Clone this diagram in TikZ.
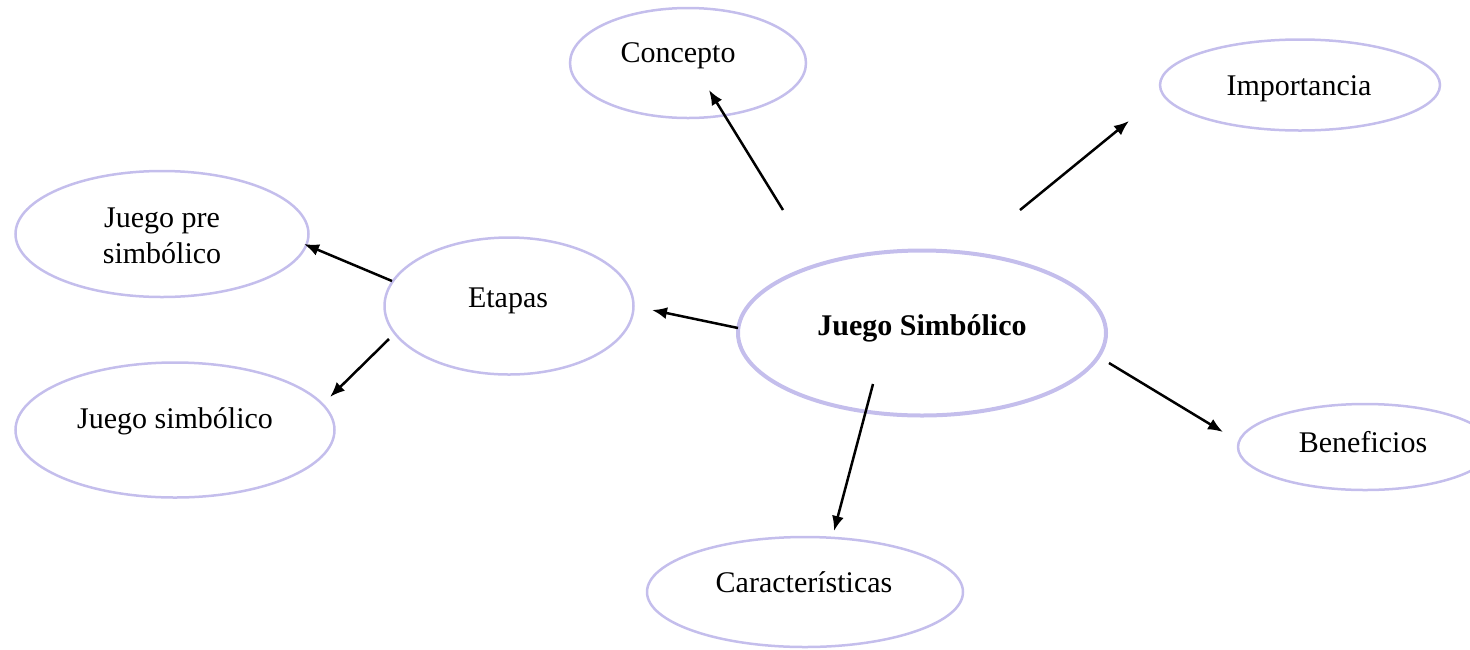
\documentclass[tikz,border=0pt]{standalone}
\usepackage{fontspec}
\setmainfont{Liberation Serif}
\usetikzlibrary{shapes.geometric,arrows.meta}
\definecolor{bubc}{RGB}{196,190,236}
\tikzset{
  bub/.style={ellipse, draw=bubc, line width=2.5pt, inner sep=0pt},
  lbl/.style={font=\fontsize{30}{36}\selectfont, inner sep=0pt, anchor=base},
  arr/.style={-{Latex[length=15pt,width=12pt]}, line width=2.5pt, black}
}
\begin{document}
\begin{tikzpicture}[x=1pt,y=-1pt]
\useasboundingbox (0,0) rectangle (1470,649);
% ellipses
\node[bub, minimum width=236pt, minimum height=110pt] (e1) at (688,63) {};
\node[bub, minimum width=280pt, minimum height=91pt] (e2) at (1300,85) {};
\node[bub, minimum width=293pt, minimum height=126pt] (e3) at (162,234) {};
\node[bub, minimum width=249pt, minimum height=137pt] (e4) at (509,306) {};
\node[bub, line width=4pt, minimum width=368pt, minimum height=165pt] (e5) at (922,333) {};
\node[bub, minimum width=319pt, minimum height=135pt] (e6) at (175,430) {};
\node[bub, minimum width=254pt, minimum height=86pt] (e7) at (1365,447) {};
\node[bub, minimum width=316pt, minimum height=110pt] (e8) at (805,592) {};
% labels
\node[lbl] (t1) at (678,62) {Concepto};
\node[lbl] (t2) at (1299,95) {Importancia};
\node[lbl] (t3a) at (162,227) {Juego pre};
\node[lbl] (t3b) at (162,263) {simbólico};
\node[lbl] (t4) at (508,307) {Etapas};
\node[lbl, font=\fontsize{30}{36}\selectfont\bfseries] (t5) at (922,335) {Juego Simbólico};
\node[lbl] (t6) at (175,428) {Juego simbólico};
\node[lbl] (t7) at (1363,452) {Beneficios};
\node[lbl] (t8) at (804,592) {Características};
% arrow endpoints
\coordinate (a1) at (783,210); \coordinate (b1) at (709,90);
\coordinate (a2) at (1020,210); \coordinate (b2) at (1129,121);
\coordinate (a3) at (738,328); \coordinate (b3) at (652,310);
\coordinate (a4) at (392,281); \coordinate (b4) at (304,244);
\coordinate (a5) at (389,339); \coordinate (b5) at (330,397);
\coordinate (a6) at (1109,363); \coordinate (b6) at (1223,432);
\coordinate (a7) at (873,384); \coordinate (b7) at (834,531);
\draw[arr] (a1) -- (b1);
\draw[arr] (a2) -- (b2);
\draw[arr] (a3) -- (b3);
\draw[arr] (a4) -- (b4);
\draw[arr] (a5) -- (b5);
\draw[arr] (a6) -- (b6);
\draw[arr] (a7) -- (b7);
\end{tikzpicture}
\end{document}
